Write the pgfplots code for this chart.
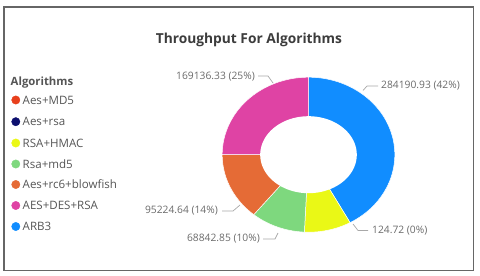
\documentclass[border=0pt]{standalone}
\usepackage{fontspec}
\setmainfont{Open Sans}
\usepackage{pgfplots}
\pgfplotsset{compat=1.18}
\definecolor{cRed}{HTML}{E8401C}
\definecolor{cNavy}{HTML}{0D0F6E}
\definecolor{cYellow}{HTML}{EAF816}
\definecolor{cGreen}{HTML}{7ED87E}
\definecolor{cOrange}{HTML}{E56B36}
\definecolor{cPink}{HTML}{DF43A4}
\definecolor{cBlue}{HTML}{118DFF}
\definecolor{cLab}{HTML}{6A6A6A}
\definecolor{cLeg}{HTML}{555555}
\definecolor{cTitle}{HTML}{3C3C3C}
\definecolor{cFrame}{HTML}{666666}
\definecolor{cLine}{HTML}{A8A8A8}
% slice sizes as drawn (clockwise from top)
\def\vA{284190.93}% ARB3
\def\vB{59250}%     RSA+HMAC (drawn size; labelled 124.72)
\def\vC{68842.85}%  Rsa+md5
\def\vD{95224.64}%  Aes+rc6+blowfish
\def\vE{169136.33}% AES+DES+RSA
\def\cx{308.5}\def\cy{120.3}\def\rx{86.3}\def\ry{77.5}
\begin{document}
\begin{tikzpicture}
\edef\T{\fpeval{\vA+\vB+\vC+\vD+\vE}}
\edef\aA{90}
\edef\aB{\fpeval{\aA-360*\vA/\T}}
\edef\aC{\fpeval{\aB-360*\vB/\T}}
\edef\aD{\fpeval{\aC-360*\vC/\T}}
\edef\aE{\fpeval{\aD-360*\vD/\T}}
\edef\aF{\fpeval{\aE-360*\vE/\T}}
\begin{axis}[width=480bp,height=275bp,scale only axis,
  xmin=0,xmax=480,ymin=0,ymax=275,hide axis,clip=false]
\path (axis cs:0,0) rectangle (axis cs:480,275);
\draw[cFrame,line width=1.4pt] (axis cs:4,268) rectangle (axis cs:473.5,4.5);
% donut
\addplot[fill=cBlue,draw=white,line width=0.5pt,domain=\aB:\aA,samples=80,variable=\t]
  ({\cx+\rx*cos(\t)},{\cy+\ry*sin(\t)}) -- (axis cs:\cx,\cy) -- cycle;
\addplot[fill=cYellow,draw=white,line width=0.5pt,domain=\aC:\aB,samples=30,variable=\t]
  ({\cx+\rx*cos(\t)},{\cy+\ry*sin(\t)}) -- (axis cs:\cx,\cy) -- cycle;
\addplot[fill=cGreen,draw=white,line width=0.5pt,domain=\aD:\aC,samples=30,variable=\t]
  ({\cx+\rx*cos(\t)},{\cy+\ry*sin(\t)}) -- (axis cs:\cx,\cy) -- cycle;
\addplot[fill=cOrange,draw=white,line width=0.5pt,domain=\aE:\aD,samples=30,variable=\t]
  ({\cx+\rx*cos(\t)},{\cy+\ry*sin(\t)}) -- (axis cs:\cx,\cy) -- cycle;
\addplot[fill=cPink,draw=white,line width=0.5pt,domain=\aF:\aE,samples=50,variable=\t]
  ({\cx+\rx*cos(\t)},{\cy+\ry*sin(\t)}) -- (axis cs:\cx,\cy) -- cycle;
\addplot[fill=white,draw=none,domain=0:360,samples=100,variable=\t]
  ({\cx+48.3*cos(\t)},{\cy+38.5*sin(\t)}) -- cycle;
% title
\node[font=\fontsize{13.8}{16}\selectfont\bfseries,text=cTitle] at (axis cs:249,235) {Throughput For Algorithms};
% legend
\node[anchor=west,font=\fontsize{11.4}{13}\selectfont\bfseries,text=cLeg,inner sep=0pt] at (axis cs:10.5,192) {Algorithms};
\addplot[only marks,mark=*,mark size=4.2pt,cRed] coordinates {(15.8,175)};
\addplot[only marks,mark=*,mark size=4.2pt,cNavy] coordinates {(15.8,153.3)};
\addplot[only marks,mark=*,mark size=4.2pt,cYellow] coordinates {(15.8,132)};
\addplot[only marks,mark=*,mark size=4.2pt,cGreen] coordinates {(15.8,111)};
\addplot[only marks,mark=*,mark size=4.2pt,cOrange] coordinates {(15.8,90.5)};
\addplot[only marks,mark=*,mark size=4.2pt,cPink] coordinates {(15.8,69.5)};
\addplot[only marks,mark=*,mark size=4.2pt,cBlue] coordinates {(15.8,48.5)};
\begin{scope}[every node/.style={anchor=west,font=\fontsize{11.6}{13}\selectfont,text=cLeg,inner sep=0pt}]
\node at (axis cs:22.5,175) {Aes+MD5};
\node at (axis cs:22.5,153.3) {Aes+rsa};
\node at (axis cs:22.5,132) {RSA+HMAC};
\node at (axis cs:22.5,111) {Rsa+md5};
\node at (axis cs:22.5,90.5) {Aes+rc6+blowfish};
\node at (axis cs:22.5,69.5) {AES+DES+RSA};
\node at (axis cs:22.5,48.5) {ARB3};
\end{scope}
% data labels
\begin{scope}[every node/.style={font=\fontsize{10.3}{12}\selectfont,text=cLab,inner sep=0pt}]
\node[anchor=east] at (axis cs:255,198.5) {169136.33 (25\%)};
\node[anchor=west] at (axis cs:381,189) {284190.93 (42\%)};
\node[anchor=west] at (axis cs:372,44.5) {124.72 (0\%)};
\node[anchor=east] at (axis cs:260,36) {68842.85 (10\%)};
\node[anchor=east] at (axis cs:218,64) {95224.64 (14\%)};
\end{scope}
\draw[cLine,line width=0.7pt] (axis cs:258,199) -- (axis cs:268,199) -- (axis cs:273,192);
\draw[cLine,line width=0.7pt] (axis cs:363,184.5) -- (axis cs:367,189) -- (axis cs:378,189);
\draw[cLine,line width=0.7pt] (axis cs:353,51) -- (axis cs:358,44.5) -- (axis cs:368,44.5);
\draw[cLine,line width=0.7pt] (axis cs:263,36) -- (axis cs:275,36) -- (axis cs:278,42);
\draw[cLine,line width=0.7pt] (axis cs:222,64) -- (axis cs:233,64) -- (axis cs:240,70);
\end{axis}
\end{tikzpicture}
\end{document}
